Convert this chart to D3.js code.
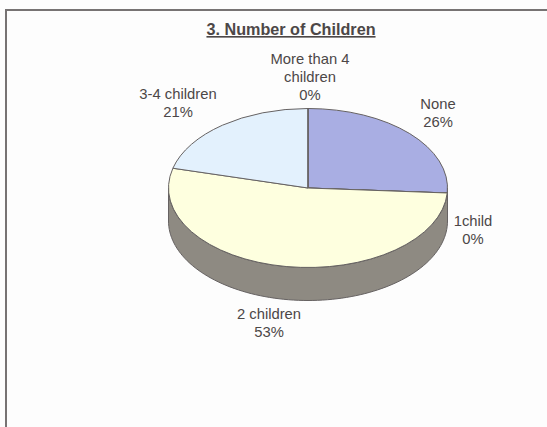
<!DOCTYPE html>
<html>
<head>
<meta charset="utf-8">
<script src="https://cdn.jsdelivr.net/npm/d3@7"></script>
<style>
html,body{margin:0;padding:0;background:#fdfdfd;}
svg{display:block;}
text{font-family:"Liberation Sans",Arial,sans-serif;fill:#4c4747;}
</style>
</head>
<body>
<script>
// Survey answers for "Number of Children"
const categories = ["None", "1child", "2 children", "3-4 children", "More than 4 children"];
const shares = [26, 0, 53, 21, 0];
const sliceColors = ["#a9aee3", "#a9aee3", "#feffdf", "#e3f1fd", "#e3f1fd"];
const wallColor = "#8e8a82";
const edgeColor = "#666262";
const chartTitle = "3. Number of Children";

const width = 547, height = 427;
const cx = 308, cy = 188, rx = 139.5, ry = 79.5, depth = 33;

const svg = d3.select("body").append("svg")
  .attr("width", width).attr("height", height);

// Frame: top and left rules run off the page edge
svg.append("path")
  .attr("d", d3.line()([[6, height], [6, 10], [width, 10]]))
  .attr("fill", "none").attr("stroke", "#777373").attr("stroke-width", 2);

svg.append("text").attr("x", 291).attr("y", 35)
  .attr("text-anchor", "middle")
  .attr("font-size", 16.2).attr("font-weight", "bold")
  .attr("text-decoration", "underline")
  .text(chartTitle);

const pie = d3.pie().sort(null).value(d => d)(shares);

// Projects a pie angle (clockwise from twelve o'clock) on to the tilted disc
const ex = a => cx + rx * Math.sin(a);
const ey = a => cy - ry * Math.cos(a);

// Rim of the disc: only the front half, from three o'clock round to nine o'clock
const rimAngles = d3.range(Math.PI / 2, 1.5 * Math.PI + 0.001, Math.PI / 90);
const rim = d3.line()([
  ...rimAngles.map(a => [ex(a), ey(a)]),
  ...rimAngles.slice().reverse().map(a => [ex(a), ey(a) + depth])
]) + "Z";
svg.append("path").attr("d", rim)
  .attr("fill", wallColor).attr("stroke", edgeColor).attr("stroke-width", 1);

// Top face: a circular d3.arc flattened into an ellipse
const arc = d3.arc().innerRadius(0).outerRadius(rx);
svg.append("g")
  .attr("transform", `translate(${cx},${cy}) scale(1,${ry / rx})`)
  .selectAll("path").data(pie).join("path")
  .attr("d", arc)
  .attr("fill", (d, i) => sliceColors[i])
  .attr("stroke", edgeColor).attr("stroke-width", 1)
  .attr("vector-effect", "non-scaling-stroke");

// Stacked labels, each line centred on its anchor
const labelLines = [
  ["None", "26%"],
  ["1child", "0%"],
  ["2 children", "53%"],
  ["3-4 children", "21%"],
  ["More than 4", "children", "0%"]
];
const labelAnchors = [[438, 109], [473, 226], [269, 319], [178, 99], [310, 64]];
const lineHeight = 17.8;

svg.append("g").selectAll("text").data(labelLines).join("text")
  .attr("font-size", 14.8)
  .attr("text-anchor", "middle")
  .attr("transform", (d, i) => `translate(${labelAnchors[i][0]},${labelAnchors[i][1]})`)
  .selectAll("tspan").data(d => d).join("tspan")
  .attr("x", 0).attr("dy", (d, i) => i ? lineHeight : 0)
  .text(d => d);
</script>
</body>
</html>
